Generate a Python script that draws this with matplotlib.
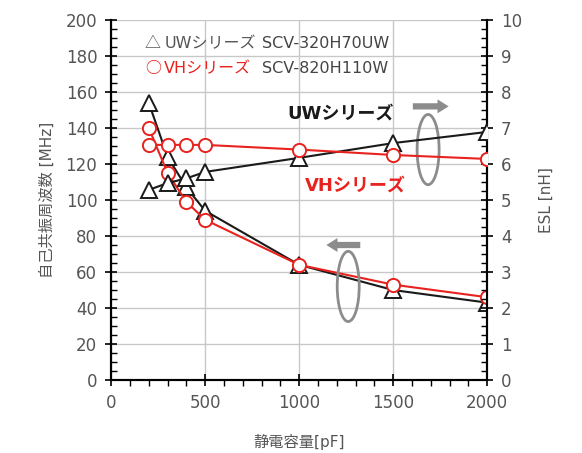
import numpy as np
import matplotlib.pyplot as plt
from matplotlib.patches import Ellipse
from matplotlib.ticker import MultipleLocator

plt.rcParams['font.family'] = ['DejaVu Sans', 'Noto Sans CJK JP']

# data
cap = [200, 300, 400, 500, 1000, 1500, 2000]          # pF
uw_freq = [154, 124, 107, 94, 64, 50, 43]             # MHz
vh_freq = [140, 115, 99, 89, 64, 53, 46]              # MHz
uw_esl = [5.28, 5.47, 5.6, 5.78, 6.17, 6.58, 6.89]    # nH
vh_esl = [6.53, 6.53, 6.53, 6.53, 6.4, 6.25, 6.14]    # nH

red = "#e8221e"
txt = "#444444"
arrow_gray = "#8c8c8c"

fig = plt.figure(figsize=(5.82, 4.53), dpi=100)
ax = fig.add_axes([0.191, 0.161, 0.646, 0.795])
ax2 = ax.twinx()

# frequency (left axis)
ax.plot(cap, uw_freq, color="#1a1a1a", lw=1.5, marker="^", ms=11,
        mfc="white", mec="#1a1a1a", mew=1.4, zorder=4)
ax.plot(cap, vh_freq, color=red, lw=1.5, marker="o", ms=9.5,
        mfc="white", mec=red, mew=1.4, zorder=5)
# ESL (right axis)
ax2.plot(cap, uw_esl, color="#1a1a1a", lw=1.5, marker="^", ms=11,
         mfc="white", mec="#1a1a1a", mew=1.4, zorder=4)
ax2.plot(cap, vh_esl, color=red, lw=1.5, marker="o", ms=9.5,
         mfc="white", mec=red, mew=1.4, zorder=5)

ax.set_xlim(0, 2000)
ax.set_ylim(0, 200)
ax2.set_ylim(0, 10)
ax.xaxis.set_major_locator(MultipleLocator(500))
ax.xaxis.set_minor_locator(MultipleLocator(100))
ax.yaxis.set_major_locator(MultipleLocator(20))
ax.yaxis.set_minor_locator(MultipleLocator(5))
ax2.yaxis.set_major_locator(MultipleLocator(1))
ax2.yaxis.set_minor_locator(MultipleLocator(0.25))

ax.grid(True, which="major", color="#c8c8c8", lw=1.0)
ax.set_axisbelow(True)

for a in (ax, ax2):
    for s in a.spines.values():
        s.set_linewidth(1.5)
    a.spines["top"].set_visible(False)
    a.tick_params(which="major", direction="inout", length=8, width=1.2,
                  labelsize=12, labelcolor="#555555", pad=6)
    a.tick_params(which="minor", direction="in", length=4, width=1.0)
ax.tick_params(axis="x", which="minor", direction="out", length=4)

ax.set_ylabel("自己共振周波数 [MHz]", fontsize=11, color="#555555", labelpad=8)
ax2.set_ylabel("ESL [nH]", fontsize=11, color="#555555", labelpad=12)
ax.set_xlabel("静電容量[pF]", fontsize=11, color="#555555", labelpad=16)

# legend text
ax.text(180, 187, "△", fontsize=11.5, color="#555555", va="center",
        family=["Noto Sans CJK JP"])
ax.text(282, 187, "UWシリーズ", fontsize=11.5, color="#555555", va="center")
ax.text(803, 187, "SCV-320H70UW", fontsize=11.5, color=txt, va="center")
ax.text(180, 173, "○", fontsize=11.5, color=red, va="center",
        family=["Noto Sans CJK JP"])
ax.text(282, 173, "VHシリーズ", fontsize=11.5, color=red, va="center")
ax.text(803, 173, "SCV-820H110W", fontsize=11.5, color=txt, va="center")

# series labels
ax.text(1218, 148, "UWシリーズ", fontsize=13, fontweight="bold",
        color="#1a1a1a", ha="center", va="center")
ax.text(1298, 108, "VHシリーズ", fontsize=13, fontweight="bold",
        color=red, ha="center", va="center")

# ellipses and arrows showing which axis each group belongs to
ax.add_patch(Ellipse((1686, 128), 117, 39, fill=False, ec=arrow_gray,
                     lw=2, zorder=6))
ax.add_patch(Ellipse((1261, 52), 117, 39, fill=False, ec=arrow_gray,
                     lw=2, zorder=6))
ax.annotate("", xy=(1810, 152), xytext=(1590, 152),
            arrowprops=dict(arrowstyle="simple,head_length=0.8,head_width=1.0,tail_width=0.45",
                            fc=arrow_gray, ec="none"))
ax.annotate("", xy=(1130, 75), xytext=(1340, 75),
            arrowprops=dict(arrowstyle="simple,head_length=0.8,head_width=1.0,tail_width=0.45",
                            fc=arrow_gray, ec="none"))

fig.savefig("out.png", dpi=100)
